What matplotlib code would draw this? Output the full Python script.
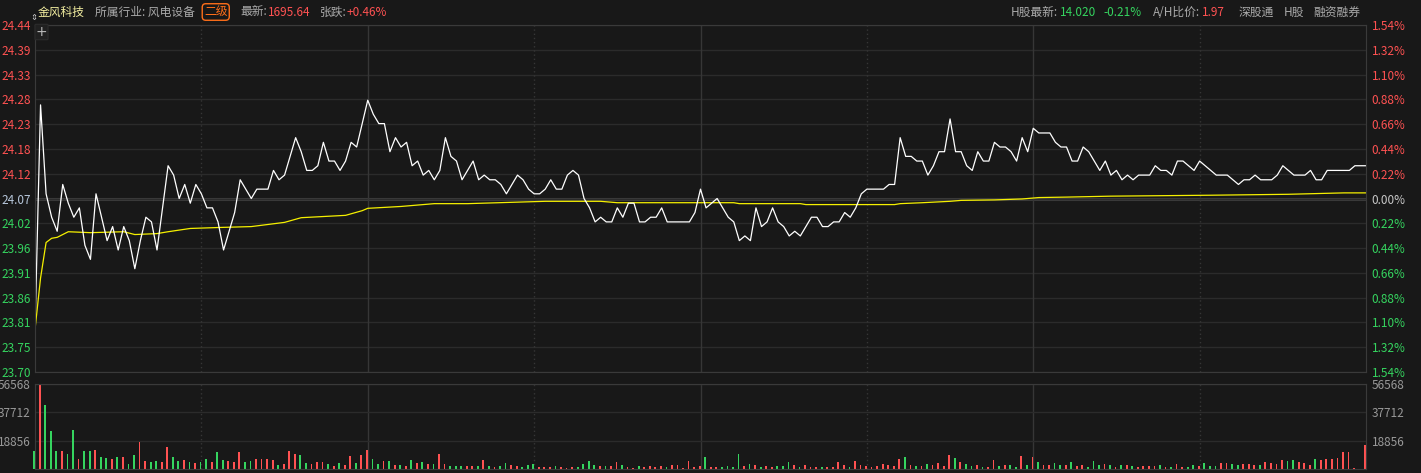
import matplotlib
matplotlib.use("Agg")
import matplotlib.pyplot as plt
import numpy as np

plt.rcParams['font.family'] = ['Noto Sans CJK SC', 'DejaVu Sans']

# 数据 (分时, 每分钟一个点)
prev_close = 24.07
max_pct = 1.54

price = [
    23.79, 24.27, 24.08, 24.03, 24.00, 24.10, 24.06, 24.03, 24.05, 23.97,
    23.94, 24.08, 24.03, 23.98, 24.01, 23.96, 24.01, 23.98, 23.92, 23.98,
    24.03, 24.02, 23.96, 24.05, 24.14, 24.12, 24.07, 24.10, 24.06, 24.10,
    24.08, 24.05, 24.05, 24.02, 23.96, 24.00, 24.04, 24.11, 24.09, 24.07,
    24.09, 24.09, 24.09, 24.13, 24.11, 24.12, 24.16, 24.20, 24.17, 24.13,
    24.13, 24.14, 24.19, 24.15, 24.15, 24.13, 24.15, 24.19, 24.18, 24.23,
    24.28, 24.25, 24.23, 24.23, 24.17, 24.20, 24.18, 24.19, 24.14, 24.15,
    24.12, 24.13, 24.11, 24.13, 24.20, 24.16, 24.15, 24.11, 24.13, 24.15,
    24.11, 24.12, 24.11, 24.11, 24.10, 24.08, 24.10, 24.12, 24.11, 24.09,
    24.08, 24.08, 24.09, 24.11, 24.09, 24.09, 24.12, 24.13, 24.12, 24.07,
    24.05, 24.02, 24.03, 24.02, 24.02, 24.05, 24.03, 24.06, 24.06, 24.02,
    24.02, 24.03, 24.03, 24.05, 24.02, 24.02, 24.02, 24.02, 24.02, 24.04,
    24.09, 24.05, 24.06, 24.07, 24.05, 24.03, 24.02, 23.98, 23.99, 23.98,
    24.05, 24.01, 24.02, 24.05, 24.02, 24.01, 23.99, 24.00, 23.99, 24.01,
    24.03, 24.03, 24.01, 24.01, 24.02, 24.02, 24.04, 24.03, 24.05, 24.08,
    24.09, 24.09, 24.09, 24.09, 24.10, 24.10, 24.20, 24.16, 24.16, 24.15,
    24.15, 24.12, 24.14, 24.17, 24.17, 24.24, 24.17, 24.17, 24.14, 24.13,
    24.17, 24.15, 24.15, 24.19, 24.18, 24.18, 24.17, 24.15, 24.20, 24.17,
    24.22, 24.21, 24.21, 24.21, 24.19, 24.18, 24.18, 24.15, 24.15, 24.18,
    24.17, 24.15, 24.13, 24.15, 24.12, 24.13, 24.11, 24.12, 24.11, 24.12,
    24.12, 24.12, 24.14, 24.13, 24.13, 24.12, 24.15, 24.15, 24.14, 24.13,
    24.15, 24.14, 24.13, 24.12, 24.12, 24.12, 24.11, 24.10, 24.11, 24.11,
    24.12, 24.11, 24.11, 24.11, 24.12, 24.14, 24.13, 24.12, 24.12, 24.12,
    24.13, 24.11, 24.11, 24.13, 24.13, 24.13, 24.13, 24.13, 24.14, 24.14,
    24.14,
]

# 均价线
avg_min = [0, 1, 2, 3, 4, 6, 10, 16, 18, 22, 24, 28, 33, 39, 45, 48, 56, 59,
           60, 66, 72, 78, 92, 102, 105, 126, 127, 138, 139, 155, 156, 160,
           165, 167, 173, 178, 181, 186, 194, 212, 226, 236, 240]
avg_price = [23.79, 23.90, 23.976, 23.985, 23.987, 23.999, 23.997, 23.999,
             23.993, 23.995, 23.999, 24.006, 24.008, 24.010, 24.019, 24.029,
             24.034, 24.044, 24.049, 24.053, 24.059, 24.059, 24.064, 24.064,
             24.061, 24.061, 24.059, 24.059, 24.057, 24.057, 24.059, 24.061,
             24.064, 24.066, 24.067, 24.069, 24.072, 24.073, 24.075, 24.077,
             24.079, 24.082, 24.082]

volume = [
    11650, 56568, 42400, 25600, 12100, 12100, 10100, 26250, 6700, 12100,
    11650, 12800, 7850, 7200, 6500, 7850, 7850, 3360, 9400, 17700,
    5600, 4900, 5400, 4500, 14600, 7850, 5600, 6050, 4500, 3800,
    4900, 6700, 4900, 11000, 6050, 5400, 4900, 11000, 4900, 5400,
    6700, 6500, 6700, 6050, 2700, 3360, 12100, 10100, 9400, 4250,
    3360, 4900, 4900, 3360, 2000, 4250, 2700, 8750, 4250, 9400,
    12800, 6700, 3360, 5400, 5400, 2700, 2700, 2000, 6050, 4250,
    4700, 3360, 3360, 10100, 3360, 2000, 2000, 2000, 2000, 2000,
    2000, 6050, 2000, 1570, 2000, 4250, 2700, 2000, 1350, 2700,
    3360, 1350, 1350, 1350, 2000, 1350, 670, 1350, 1350, 3360,
    5400, 2700, 2000, 2000, 2000, 4700, 2700, 1350, 670, 2000,
    1350, 2000, 1350, 2000, 1350, 2700, 2700, 670, 5400, 1350,
    2000, 8100, 1350, 1350, 1350, 2000, 1350, 10100, 2000, 3360,
    2700, 1350, 2000, 1350, 2000, 2000, 4700, 2700, 1350, 2700,
    1350, 1350, 1350, 1350, 1350, 4700, 2700, 1350, 5400, 2700,
    2000, 1350, 2000, 3360, 2700, 2000, 6700, 8100, 2700, 2000,
    2000, 3360, 2700, 4000, 2000, 9400, 7400, 4700, 3360, 2000,
    2700, 1350, 1350, 6050, 2000, 2700, 2700, 1350, 8750, 2700,
    8100, 4700, 2700, 2700, 4000, 2700, 2700, 4700, 2000, 2700,
    1350, 5400, 2700, 3360, 2700, 1350, 2700, 2700, 2000, 1350,
    2000, 2000, 2000, 2700, 1350, 1350, 3360, 1350, 1350, 2700,
    2000, 4000, 2000, 2000, 4000, 4000, 3360, 2700, 3360, 3360,
    2700, 2700, 4700, 4000, 3360, 6050, 5400, 6050, 4700, 4000,
    2700, 6700, 6050, 6700, 6700, 7400, 11450, 11450, 670, 0,
    16150,
]

# 1 = 红(外盘), 0 = 绿
vol_up = [
    0, 1, 0, 0, 0, 1, 0, 0, 1, 0,
    0, 1, 0, 0, 1, 0, 1, 0, 0, 1,
    1, 0, 0, 1, 1, 0, 0, 1, 0, 1,
    0, 0, 1, 0, 0, 1, 1, 1, 0, 0,
    1, 1, 1, 1, 0, 1, 1, 1, 0, 0,
    1, 1, 1, 0, 1, 0, 1, 1, 0, 1,
    1, 0, 0, 1, 0, 1, 0, 1, 0, 1,
    0, 1, 0, 1, 1, 0, 0, 0, 1, 1,
    0, 1, 0, 1, 0, 0, 1, 1, 0, 0,
    0, 1, 1, 1, 0, 1, 1, 1, 0, 0,
    0, 0, 1, 0, 1, 1, 0, 1, 1, 0,
    1, 1, 1, 1, 0, 1, 1, 1, 1, 1,
    1, 0, 1, 1, 0, 0, 0, 0, 1, 0,
    1, 0, 1, 1, 0, 0, 0, 1, 0, 1,
    1, 1, 0, 1, 1, 1, 1, 0, 1, 1,
    1, 1, 1, 1, 1, 1, 1, 0, 1, 0,
    1, 0, 1, 1, 1, 1, 0, 1, 0, 0,
    1, 0, 1, 1, 0, 1, 0, 0, 1, 0,
    1, 0, 1, 1, 0, 0, 1, 0, 1, 1,
    0, 0, 0, 1, 0, 1, 0, 1, 0, 1,
    1, 1, 1, 0, 1, 0, 1, 1, 0, 0,
    1, 0, 0, 0, 1, 1, 0, 0, 1, 1,
    1, 0, 1, 1, 1, 1, 0, 0, 1, 1,
    1, 0, 1, 1, 1, 1, 1, 1, 1, 1,
    1,
]

vol_ticks = [18856, 37712, 56568]

# 颜色
bg = '#181818'
red = '#ff5252'
green = '#35d45f'
gridc = '#2b2b2b'
vlinec = '#363636'
gray = '#aaaaaa'

W, H = 1421, 473
fig = plt.figure(figsize=(W / 100, H / 100), dpi=100, facecolor=bg)


def box(l, t, r, b):
    return [l / W, 1 - b / H, (r - l) / W, (b - t) / H]


minutes = np.arange(len(price))

# 价格区
ax = fig.add_axes(box(35, 25, 1366, 372), facecolor=bg)
step = prev_close * max_pct / 100 / 7
ticks = prev_close + np.arange(-7, 8) * step
ax.set_ylim(ticks[0], ticks[-1])
ax.set_xlim(0, 240)
ax.set_yticks(ticks)
ax.set_yticklabels([f'{t:.2f}' for t in ticks])
ax.set_xticks([])
ax.grid(axis='y', color=gridc, lw=1)
ax.axhline(prev_close, color='#3d3d3d', lw=2.2, zorder=1)
for m in [60, 120, 180]:
    ax.axvline(m, color=vlinec, lw=1)
for m in [30, 90, 150, 210]:
    ax.axvline(m, color=vlinec, lw=1, ls=(0, (1, 2)))
ax.plot(avg_min, avg_price, color='#f5f000', lw=0.9, zorder=3)
ax.plot(minutes, price, color='white', lw=0.9, zorder=4)
ax.tick_params(axis='y', length=0, pad=3, labelsize=8.5)

axr = ax.twinx()
axr.set_ylim(ax.get_ylim())
axr.set_yticks(ticks)
axr.set_yticklabels([f'{abs(t - prev_close) / prev_close * 100:.2f}%' for t in ticks])
axr.tick_params(axis='y', length=0, pad=4, labelsize=8.5)

for a in (ax, axr):
    for lab, k in zip(a.get_yticklabels(), range(-7, 8)):
        if k > 0:
            lab.set_color(red)
        elif k < 0:
            lab.set_color(green)
        else:
            lab.set_color('#b8c8dc' if a is ax else '#c8c8c8')
    for s in a.spines.values():
        s.set_color('#3a3a3a')

# 成交量区
axv = fig.add_axes(box(35, 384, 1366, 469), facecolor=bg)
cols = [red if u else green for u in vol_up]
bars = axv.bar(minutes - 0.15, volume, width=0.32, color=cols, linewidth=0, zorder=3)
for b in bars:
    b.set_clip_on(False)
axv.set_xlim(0, 240)
axv.set_ylim(0, vol_ticks[-1])
axv.set_yticks(vol_ticks)
axv.set_yticklabels([str(v) for v in vol_ticks])
axv.set_xticks([])
axv.grid(axis='y', color=gridc, lw=1)
for m in [60, 120, 180]:
    axv.axvline(m, color=vlinec, lw=1, zorder=0)
for m in [30, 90, 150, 210]:
    axv.axvline(m, color=vlinec, lw=1, ls=(0, (1, 2)), zorder=0)
axv.tick_params(axis='y', length=0, pad=3, labelsize=8.5, labelcolor='#999999')
axvr = axv.twinx()
axvr.set_ylim(axv.get_ylim())
axvr.set_yticks(vol_ticks)
axvr.set_yticklabels([str(v) for v in vol_ticks])
axvr.tick_params(axis='y', length=0, pad=4, labelsize=8.5, labelcolor='#999999')
for a in (axv, axvr):
    for s in a.spines.values():
        s.set_color('#3a3a3a')
        s.set_zorder(1)

# 顶部信息栏
ty = 1 - 12 / H


def head(x, s, c, **kw):
    fig.text(x / W, ty, s, color=c, fontsize=8.5, va='center', **kw)


head(38, '金风科技', '#f3eea0')
head(95, '所属行业: 风电设备', gray)
head(204, '二级', '#ff6f1a',
     bbox=dict(boxstyle='round,pad=0.15,rounding_size=0.3', fc='none', ec='#ff6f1a', lw=1))
head(240, '最新:', gray)
head(268, '1695.64', red)
head(320, '张跌:', gray)
head(347, '+0.46%', red)
head(1011, 'H股最新:', gray)
head(1060, '14.020', green)
head(1103, '-0.21%', green)
head(1153, 'A/H比价:', gray)
head(1202, '1.97', red)
head(1239, '深股通', gray)
head(1284, 'H股', gray)
head(1313, '融资融券', gray)

fig.text(34 / W, 1 - 18 / H, '⇕', color='#cccccc', fontsize=6, ha='center', va='center',
         family='DejaVu Sans')
fig.text(41.5 / W, 1 - 32 / H, '+', color='#bbbbbb', fontsize=10, ha='center', va='center',
         family='DejaVu Sans',
         bbox=dict(boxstyle='round,pad=0.05', fc='#202020', ec='#2c2c2c', lw=0.8))

fig.savefig('out.png', dpi=100, facecolor=bg)
